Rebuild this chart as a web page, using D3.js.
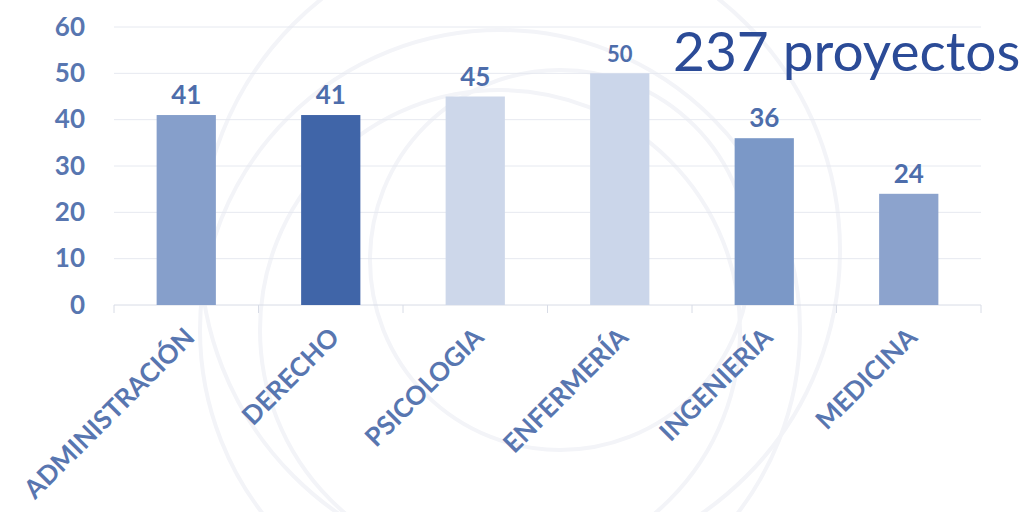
<!DOCTYPE html>
<html lang="es">
<head>
<meta charset="UTF-8">
<title>Proyectos por programa</title>
<script src="https://cdnjs.cloudflare.com/ajax/libs/d3/7.8.5/d3.min.js"></script>
<style>
  html, body { margin: 0; padding: 0; background: #fff; }
  svg { display: block; }
</style>
</head>
<body>
<div id="chart"></div>
<script>
// data
var programas = ["ADMINISTRACIÓN", "DERECHO", "PSICOLOGIA", "ENFERMERÍA", "INGENIERÍA", "MEDICINA"];
var proyectos = [41, 41, 45, 50, 36, 24];
var colores = ["#869fcb", "#4065a8", "#cdd7ea", "#cbd6ea", "#7b98c7", "#8ca3cd"];
var yTicks = [0, 10, 20, 30, 40, 50, 60];
var total = "237 proyectos";

var w = 1029, h = 512;
var mLeft = 114, mRight = 981, mTop = 27, mBottom = 305;
var fuente = "Lato, 'Open Sans', sans-serif";

var svg = d3.select("#chart").append("svg")
    .attr("width", w)
    .attr("height", h);

// faint watermark rings behind the chart
var marca = svg.append("g").attr("fill", "none").attr("stroke", "#f3f4f8").attr("stroke-width", 4);
[[500, 330, 300], [500, 330, 240], [560, 260, 190], [520, 250, 320]].forEach(function (c) {
    marca.append("circle").attr("cx", c[0]).attr("cy", c[1]).attr("r", c[2]);
});

var x = d3.scaleBand()
    .domain(programas)
    .range([mLeft, mRight])
    .paddingInner(0.59)
    .paddingOuter(0.295);

var y = d3.scaleLinear()
    .domain([0, 60])
    .range([mBottom, mTop]);

// gridlines
svg.append("g")
    .selectAll("line")
    .data(yTicks.slice(1))
    .enter().append("line")
    .attr("x1", mLeft).attr("x2", mRight)
    .attr("y1", function (d) { return y(d); })
    .attr("y2", function (d) { return y(d); })
    .attr("stroke", "#e6e9f0")
    .attr("stroke-width", 1);

// y axis labels
var yAxis = d3.axisLeft(y).tickValues(yTicks).tickSize(0).tickPadding(0);
var gy = svg.append("g").attr("transform", "translate(85,0)").call(yAxis);
gy.select(".domain").remove();
gy.selectAll("text")
    .attr("fill", "#5876b0")
    .attr("font-family", fuente)
    .attr("font-weight", "bold")
    .attr("font-size", "26px");

// x axis with boundary ticks
var gx = svg.append("g").attr("transform", "translate(0," + mBottom + ")");
gx.append("line")
    .attr("x1", mLeft).attr("x2", mRight)
    .attr("stroke", "#d8dce6");
var step = x.step();
gx.selectAll("line.tick")
    .data(d3.range(programas.length + 1))
    .enter().append("line")
    .attr("class", "tick")
    .attr("x1", function (i) { return mLeft + i * step; })
    .attr("x2", function (i) { return mLeft + i * step; })
    .attr("y1", 0).attr("y2", 8)
    .attr("stroke", "#d8dce6");

gx.selectAll("text")
    .data(programas)
    .enter().append("text")
    .attr("transform", function (d) {
        return "translate(" + (x(d) + x.bandwidth() / 2 + 10) + ",34) rotate(-45)";
    })
    .attr("text-anchor", "end")
    .attr("fill", "#5876b0")
    .attr("font-family", fuente)
    .attr("font-weight", "bold")
    .attr("font-size", "26px")
    .text(function (d) { return d; });

// bars
svg.append("g")
    .selectAll("rect")
    .data(proyectos)
    .enter().append("rect")
    .attr("x", function (d, i) { return x(programas[i]); })
    .attr("y", function (d) { return y(d); })
    .attr("width", x.bandwidth())
    .attr("height", function (d) { return mBottom - y(d); })
    .attr("fill", function (d, i) { return colores[i]; });

// value labels
svg.append("g")
    .selectAll("text")
    .data(proyectos)
    .enter().append("text")
    .attr("x", function (d, i) { return x(programas[i]) + x.bandwidth() / 2; })
    .attr("y", function (d) { return y(d) - 11; })
    .attr("text-anchor", "middle")
    .attr("fill", "#4d6dab")
    .attr("font-family", fuente)
    .attr("font-weight", "bold")
    .attr("font-size", function (d, i) { return i === 3 ? "22px" : "26px"; })
    .text(function (d) { return d; });

// total caption
svg.append("text")
    .attr("x", 673)
    .attr("y", 71)
    .attr("fill", "#2b4b97")
    .attr("font-family", fuente)
    .attr("font-size", "55px")
    .text(total);
</script>
</body>
</html>
